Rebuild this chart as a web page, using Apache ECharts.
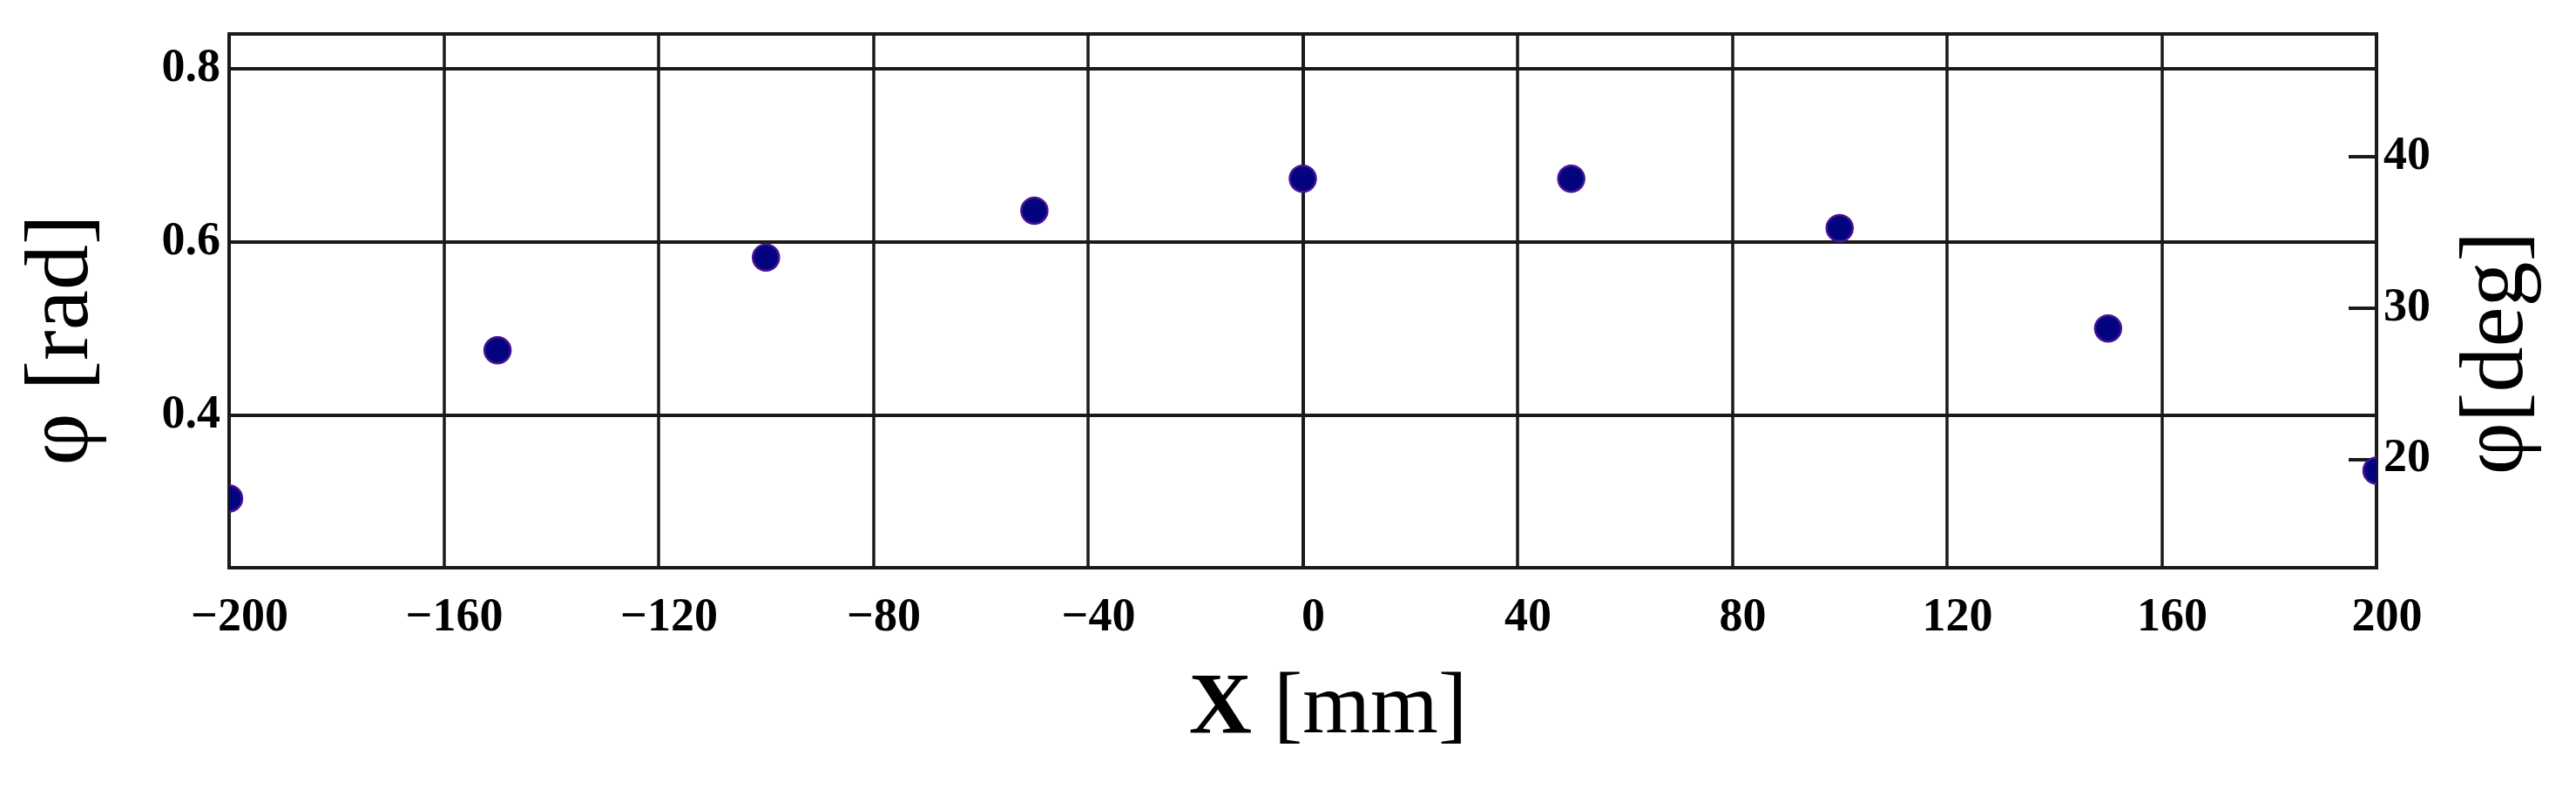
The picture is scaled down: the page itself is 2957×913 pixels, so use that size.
<!DOCTYPE html>
<html>
<head>
<meta charset="utf-8">
<script src="https://cdn.jsdelivr.net/npm/echarts@6/dist/echarts.min.js"></script>
<style>
  html, body { margin: 0; padding: 0; background: #ffffff; }
  #chart { width: 2957px; height: 913px; }
</style>
</head>
<body>
<div id="chart"></div>
<script>
// ---- data ----
const xValues = [-200, -150, -100, -50, 0, 50, 100, 150, 200];
const phiRad  = [0.304, 0.475, 0.582, 0.636, 0.673, 0.673, 0.616, 0.500, 0.336];
const xRange = [-200, 200];
const xInterval = 40;
const radRange = [0.224, 0.84];
const radTicks = [0.4, 0.6, 0.8];
const degTicks = [20, 30, 40];
const xTitleVar = 'X';
const xTitleUnit = ' [mm]';
const radTitle = 'φ [rad]';
const degTitle = 'φ[deg]';

const toDeg = r => r * 180 / Math.PI;
const points = xValues.map((x, i) => [x, phiRad[i]]);

const FONT = 'Liberation Serif';
const LINE = '#1a1a1a';

const chart = echarts.init(document.getElementById('chart'), null, { renderer: 'canvas' });

chart.setOption({
  backgroundColor: '#ffffff',
  animation: false,
  grid: {
    left: 263, right: 229, top: 39, bottom: 261,
    show: true, borderColor: LINE, borderWidth: 4, backgroundColor: 'transparent'
  },
  xAxis: {
    type: 'value',
    min: xRange[0], max: xRange[1], interval: xInterval,
    name: '{v|' + xTitleVar + '}{u|' + xTitleUnit + '}',
    nameLocation: 'middle',
    nameGap: 113,
    nameTextStyle: {
      fontFamily: FONT, fontSize: 100, color: '#000',
      padding: [0, 0, 0, 58],
      rich: {
        v: { fontFamily: FONT, fontSize: 100, fontWeight: 'bold', color: '#000' },
        u: { fontFamily: FONT, fontSize: 100, color: '#000' }
      }
    },
    axisLine: { show: true, lineStyle: { color: LINE, width: 4 } },
    axisTick: { show: false },
    splitLine: { show: true, lineStyle: { color: LINE, width: 3.5 } },
    axisLabel: {
      fontFamily: FONT, fontSize: 54, fontWeight: 'bold', color: '#000',
      margin: 31,
      padding: [0, 0, 0, 24],
      formatter: v => (v < 0 ? '\u2212' + (-v) : String(v))
    }
  },
  yAxis: [
    {
      type: 'value',
      position: 'left',
      min: radRange[0], max: radRange[1],
      name: radTitle,
      nameLocation: 'middle',
      nameRotate: 90,
      nameGap: 138,
      nameTextStyle: {
        fontFamily: FONT, fontSize: 104, color: '#000',
        padding: [0, 90, 0, 0]
      },
      axisLine: { show: true, lineStyle: { color: LINE, width: 4 } },
      axisTick: { show: false, customValues: radTicks },
      splitLine: { show: true, lineStyle: { color: LINE, width: 4 } },
      axisLabel: {
        customValues: radTicks,
        fontFamily: FONT, fontSize: 54, fontWeight: 'bold', color: '#000',
        margin: 10,
        formatter: v => v.toFixed(1)
      }
    },
    {
      type: 'value',
      position: 'right',
      min: toDeg(radRange[0]), max: toDeg(radRange[1]),
      name: degTitle,
      nameLocation: 'middle',
      nameRotate: 90,
      nameGap: 88,
      nameTextStyle: {
        fontFamily: FONT, fontSize: 104, color: '#000',
        padding: [0, 120, 0, 0]
      },
      axisLine: { show: true, lineStyle: { color: LINE, width: 4 } },
      axisTick: { show: true, inside: true, length: 32, customValues: degTicks,
                  lineStyle: { color: LINE, width: 4 } },
      splitLine: { show: false },
      axisLabel: {
        customValues: degTicks,
        fontFamily: FONT, fontSize: 54, fontWeight: 'bold', color: '#000',
        margin: 8
      }
    }
  ],
  series: [
    {
      type: 'custom',
      xAxisIndex: 0,
      yAxisIndex: 0,
      data: points,
      z: 10,
      renderItem: function (params, api) {
        const p = api.coord([api.value(0), api.value(1)]);
        const cs = params.coordSys;
        return {
          type: 'circle',
          shape: { cx: p[0], cy: p[1], r: 15 },
          style: { fill: '#03037f', stroke: '#4a1296', lineWidth: 2.5 },
          clipPath: {
            type: 'rect',
            shape: { x: cs.x, y: cs.y, width: cs.width, height: cs.height }
          }
        };
      }
    }
  ]
});
</script>
</body>
</html>
